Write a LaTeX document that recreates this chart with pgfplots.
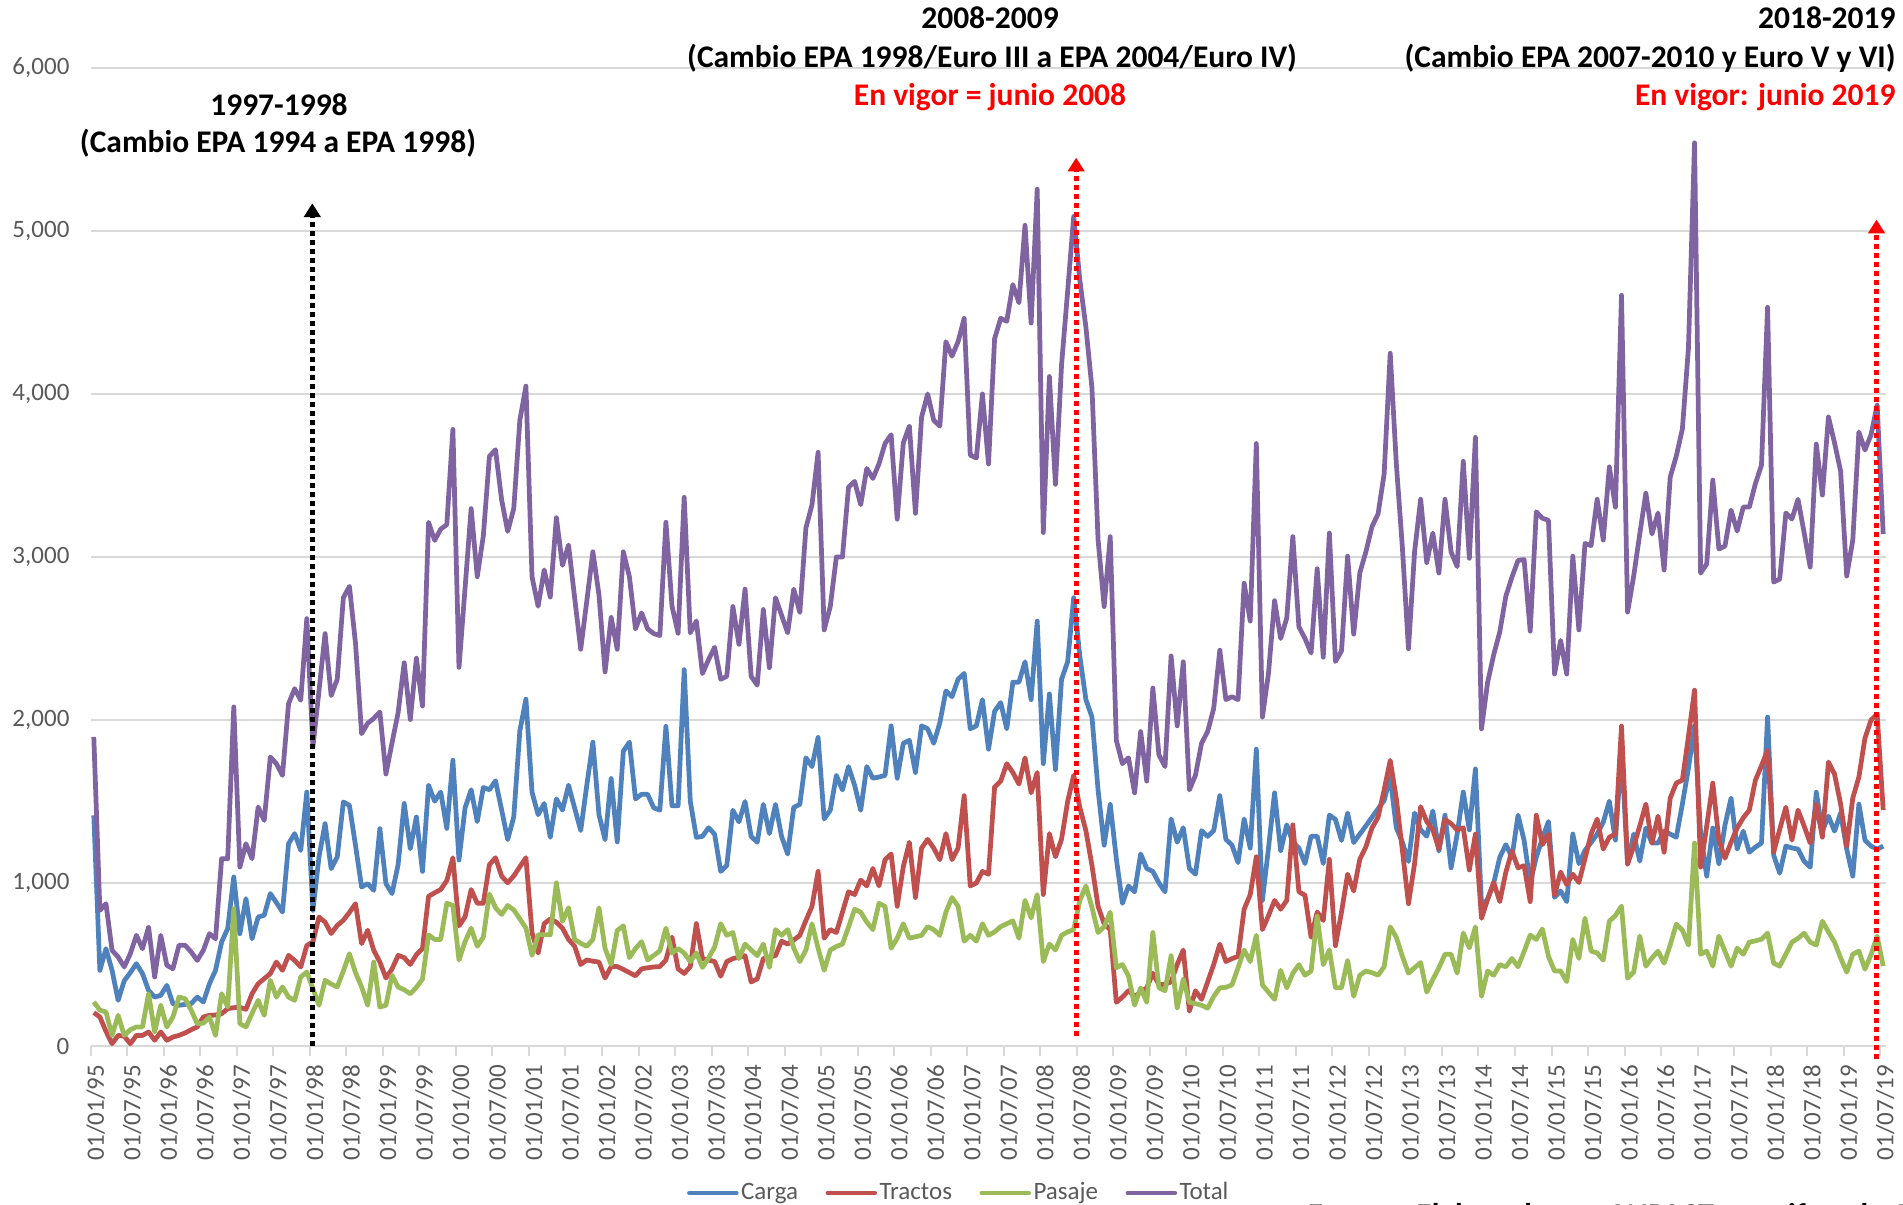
\documentclass[border=0pt]{standalone}
\usepackage{fontspec}
\setmainfont{Carlito}
\usepackage{pgfplots}
\usepackage{pgfplotstable}
\pgfplotsset{compat=1.18}
\usetikzlibrary{arrows.meta}
\definecolor{carga}{HTML}{4F81BD}
\definecolor{tractos}{HTML}{C0504D}
\definecolor{pasaje}{HTML}{9BBB59}
\definecolor{total}{HTML}{8064A2}
\definecolor{gridc}{HTML}{D9D9D9}
\definecolor{lbl}{HTML}{595959}
\definecolor{rojo}{HTML}{FF0000}

\pgfplotstableread{
i C R P T
0 1415 205 270 1896
1 464 178 220 832
2 597 90 209 873
3 464 14 65 587
4 280 65 188 546
5 400 60 65 485
6 450 14 100 566
7 505 65 117 679
8 444 65 117 597
9 341 86 321 730
10 300 35 86 423
11 311 86 250 679
12 372 35 117 495
13 260 55 178 474
14 250 65 300 618
15 255 80 290 618
16 260 100 220 577
17 300 117 137 525
18 270 178 140 587
19 382 188 178 689
20 464 190 65 658
21 638 198 321 1149
22 720 229 239 1149
23 1037 235 842 2080
24 689 237 137 1098
25 904 225 117 1241
26 658 321 200 1149
27 791 382 280 1466
28 802 413 188 1384
29 935 444 403 1773
30 880 515 300 1732
31 822 464 362 1660
32 1241 556 300 2100
33 1303 525 280 2192
34 1200 485 423 2121
35 1558 617 454 2622
36 832 638 352 1834
37 1160 791 250 2180
38 1364 760 403 2530
39 1088 690 380 2150
40 1160 740 362 2250
41 1497 771 460 2750
42 1476 820 566 2820
43 1230 873 450 2470
44 975 628 362 1916
45 996 710 250 1980
46 955 587 515 2010
47 1333 515 239 2049
48 996 417 250 1669
49 935 473 434 1860
50 1113 556 362 2045
51 1488 542 345 2351
52 1210 500 320 2003
53 1405 560 360 2379
54 1071 598 410 2086
55 1600 918 682 3213
56 1502 940 654 3102
57 1558 960 654 3171
58 1335 1015 876 3199
59 1753 1155 862 3783
60 1141 737 528 2323
61 1461 793 640 2810
62 1572 960 723 3297
63 1377 876 612 2879
64 1586 876 668 3130
65 1572 1113 932 3617
66 1627 1155 848 3658
67 1450 1043 807 3352
68 1266 1001 862 3157
69 1405 1043 835 3297
70 1934 1100 780 3839
71 2128 1155 723 4048
72 1558 695 556 2879
73 1419 570 682 2698
74 1488 751 682 2921
75 1280 779 682 2754
76 1516 760 1001 3241
77 1447 723 765 2949
78 1600 654 848 3074
79 1460 612 654 2750
80 1322 500 630 2434
81 1600 528 612 2730
82 1864 520 654 3032
83 1419 515 848 2768
84 1266 417 598 2295
85 1641 487 500 2629
86 1252 487 709 2434
87 1808 470 737 3032
88 1864 450 542 2879
89 1516 431 598 2559
90 1544 473 640 2657
91 1544 480 528 2559
92 1461 485 555 2530
93 1447 487 584 2518
94 1961 528 723 3213
95 1474 668 570 2698
96 1474 473 598 2532
97 2309 445 570 3366
98 1502 487 518 2535
99 1280 751 571 2607
100 1286 536 482 2285
101 1339 527 540 2370
102 1300 518 607 2446
103 1071 428 750 2250
104 1107 518 679 2268
105 1446 536 696 2696
106 1375 545 536 2464
107 1500 554 625 2803
108 1286 393 590 2268
109 1250 411 554 2214
110 1482 536 625 2678
111 1303 545 482 2321
112 1482 554 714 2750
113 1286 643 679 2643
114 1178 625 714 2535
115 1464 650 600 2803
116 1482 679 518 2660
117 1768 770 589 3178
118 1714 857 750 3321
119 1893 1071 600 3642
120 1393 661 464 2553
121 1446 714 589 2696
122 1660 696 610 3000
123 1571 821 625 3000
124 1714 946 730 3428
125 1600 929 839 3464
126 1446 1018 821 3321
127 1714 982 760 3543
128 1643 1089 714 3482
129 1650 982 875 3571
130 1660 1143 857 3696
131 1964 1178 600 3750
132 1643 857 661 3232
133 1857 1100 750 3700
134 1875 1250 661 3803
135 1678 911 670 3268
136 1964 1214 679 3857
137 1946 1268 732 4000
138 1857 1214 714 3839
139 1982 1143 679 3803
140 2178 1303 821 4321
141 2143 1143 911 4232
142 2250 1214 857 4321
143 2286 1536 643 4464
144 1946 982 679 3625
145 1964 1000 643 3607
146 2125 1071 750 4000
147 1821 1054 679 3571
148 2053 1589 700 4339
149 2107 1625 732 4464
150 1946 1732 750 4446
151 2232 1678 768 4671
152 2232 1607 661 4560
153 2357 1768 893 5035
154 2125 1553 786 4435
155 2607 1678 929 5257
156 1732 929 518 3150
157 2160 1303 625 4107
158 1696 1161 589 3446
159 2250 1268 679 4178
160 2357 1500 700 4630
161 2750 1661 714 5089
162 2393 1464 893 4700
163 2125 1321 982 4410
164 2018 1107 850 4035
165 1571 857 696 3107
166 1232 750 732 2696
167 1482 714 821 3125
168 1150 268 480 1875
169 875 300 500 1732
170 982 339 429 1768
171 946 304 250 1553
172 1178 330 357 1929
173 1089 357 268 1625
174 1071 446 696 2196
175 1000 375 357 1786
176 946 380 339 1714
177 1393 393 554 2393
178 1250 500 232 1964
179 1339 589 411 2357
180 1089 214 268 1571
181 1054 339 260 1661
182 1321 286 250 1857
183 1286 393 232 1929
184 1321 500 304 2071
185 1536 625 357 2428
186 1268 518 360 2125
187 1232 536 375 2143
188 1125 550 480 2125
189 1393 839 589 2839
190 1214 929 518 2607
191 1821 1161 679 3696
192 893 714 375 2018
193 1214 800 330 2286
194 1553 893 286 2732
195 1196 839 464 2500
196 1357 893 357 2625
197 1250 1357 446 3125
198 1214 946 499 2571
199 1119 925 434 2500
200 1287 667 460 2411
201 1287 822 796 2928
202 1119 770 499 2385
203 1416 1145 589 3147
204 1390 615 357 2359
205 1261 822 357 2424
206 1429 1054 525 3005
207 1248 951 305 2527
208 1300 1145 434 2902
209 1350 1222 460 3031
210 1403 1338 450 3186
211 1455 1403 434 3264
212 1506 1571 486 3509
213 1650 1752 731 4250
214 1339 1519 667 3574
215 1250 1200 550 3057
216 1132 873 447 2437
217 1429 1119 480 3031
218 1326 1468 512 3354
219 1287 1377 331 2966
220 1442 1326 408 3147
221 1196 1209 480 2902
222 1416 1390 563 3354
223 1093 1364 563 3031
224 1300 1326 447 2941
225 1558 1339 693 3587
226 1326 1080 602 2992
227 1700 1300 731 3734
228 860 783 305 1946
229 900 900 460 2230
230 1000 1003 434 2400
231 1158 886 499 2540
232 1235 1067 486 2760
233 1158 1196 537 2876
234 1416 1093 486 2979
235 1261 1106 580 2984
236 1000 886 680 2545
237 1158 1416 654 3277
238 1274 1235 718 3238
239 1377 1300 550 3225
240 912 925 460 2282
241 951 1067 460 2488
242 886 990 395 2282
243 1300 1054 654 3005
244 1119 1003 537 2553
245 1200 1150 784 3083
246 1248 1300 582 3070
247 1300 1392 571 3354
248 1373 1208 527 3104
249 1502 1281 766 3553
250 1263 1300 800 3306
251 1815 1963 858 4606
252 1116 1116 416 2662
253 1300 1226 453 2883
254 1134 1350 674 3141
255 1337 1484 490 3391
256 1245 1245 540 3141
257 1245 1410 582 3270
258 1318 1189 508 2920
259 1300 1521 620 3490
260 1281 1613 747 3619
261 1484 1631 711 3785
262 1705 1900 619 4282
263 1963 2183 1245 5541
264 1300 1097 563 2901
265 1042 1350 582 2957
266 1337 1613 490 3472
267 1116 1263 674 3049
268 1355 1152 580 3067
269 1521 1250 490 3288
270 1208 1337 600 3159
271 1318 1400 563 3306
272 1189 1447 637 3306
273 1220 1631 645 3450
274 1245 1720 655 3564
275 2018 1815 692 4532
276 1171 1189 508 2846
277 1060 1330 490 2865
278 1226 1465 563 3270
279 1215 1263 637 3233
280 1208 1447 660 3354
281 1134 1350 692 3150
282 1097 1245 637 2938
283 1557 1484 619 3693
284 1318 1281 766 3380
285 1410 1742 700 3859
286 1318 1668 637 3700
287 1429 1484 540 3527
288 1208 1226 453 2883
289 1042 1521 563 3104
290 1484 1650 582 3767
291 1263 1889 471 3656
292 1226 2000 560 3750
293 1208 2036 674 3932
294 1226 1447 490 3141
}\datos

\begin{document}
\begin{tikzpicture}
\begin{axis}[
  at={(36.3pt,63.6pt)}, anchor=south west,
  width=718.2pt, height=391.2pt, scale only axis,
  xmin=0, xmax=295, ymin=0, ymax=6000,
  clip=false,
  axis line style={draw=none},
  ymajorgrids, grid style={gridc, line width=0.8pt},
  xtick={0,6,...,294},
  xticklabels={01/01/95,01/07/95,01/01/96,01/07/96,01/01/97,01/07/97,01/01/98,01/07/98,01/01/99,01/07/99,01/01/00,01/07/00,01/01/01,01/07/01,01/01/02,01/07/02,01/01/03,01/07/03,01/01/04,01/07/04,01/01/05,01/07/05,01/01/06,01/07/06,01/01/07,01/07/07,01/01/08,01/07/08,01/01/09,01/07/09,01/01/10,01/07/10,01/01/11,01/07/11,01/01/12,01/07/12,01/01/13,01/07/13,01/01/14,01/07/14,01/01/15,01/07/15,01/01/16,01/07/16,01/01/17,01/07/17,01/01/18,01/07/18,01/01/19,01/07/19},
  xtick pos=bottom, tick align=outside,
  x tick style={gridc, line width=0.8pt},
  major tick length=4pt,
  x tick label style={rotate=90, anchor=east, font=\fontsize{10}{12}\selectfont, text=lbl, yshift=-2pt},
  ytick={0,1000,...,6000},
  y tick style={draw=none},
  y tick label style={font=\fontsize{10}{12}\selectfont, text=lbl, xshift=-1pt},
  /pgf/number format/1000 sep={,},
  /pgf/number format/assume math mode=true,
  legend columns=4,
  legend style={at={(0.4836,-0.1503)}, anchor=center, draw=none, fill=none,
    font=\fontsize{10}{12}\selectfont, text=lbl,
    /tikz/every even column/.append style={column sep=10pt},
    nodes={inner sep=1pt}},
  legend image code/.code={\draw[#1, line width=1.6pt, line cap=round] (0pt,0pt) -- (19pt,0pt);},
  every axis plot/.append style={line width=1.9pt, line join=round},
]
\addplot[carga] table[x expr=\thisrow{i}+0.5, y=C]{\datos};
\addplot[tractos] table[x expr=\thisrow{i}+0.5, y=R]{\datos};
\addplot[pasaje] table[x expr=\thisrow{i}+0.5, y=P]{\datos};
\addplot[total] table[x expr=\thisrow{i}+0.5, y=T]{\datos};
\legend{Carga,Tractos,Pasaje,Total}
\draw[black, line width=2pt, dash pattern=on 2pt off 1.6pt, -{Triangle[width=6.5pt,length=5.5pt]}] (axis cs:36.4,0) -- (axis cs:36.4,5170);
\draw[rojo, line width=2pt, dash pattern=on 2pt off 1.6pt, -{Triangle[width=6.5pt,length=5.5pt]}] (axis cs:161.9,60) -- (axis cs:161.9,5450);
\draw[rojo, line width=2pt, dash pattern=on 2pt off 1.6pt, -{Triangle[width=6.5pt,length=5.5pt]}] (axis cs:293.4,-80) -- (axis cs:293.4,5070);
\end{axis}
\begin{scope}[every node/.style={font=\bfseries\fontsize{12.6}{15}\selectfont, inner sep=0pt}]
\node at (111.6pt,440pt) {1997-1998};
\node at (111.2pt,424.8pt) {(Cambio EPA 1994 a EPA 1998)};
\node at (396pt,474.8pt) {2008-2009};
\node at (396.8pt,458.8pt) {(Cambio EPA 1998/Euro III a EPA 2004/Euro IV)};
\node[text=rojo] at (396pt,443.2pt) {En vigor = junio 2008};
\node[anchor=east] at (758.4pt,474.8pt) {2018-2019};
\node[anchor=east] at (758.4pt,458.8pt) {(Cambio EPA 2007-2010 y Euro V y VI)};
\node[text=rojo, anchor=east] at (758.4pt,443.2pt) {En vigor: junio 2019};
\node[anchor=north west] at (523pt,1pt) {Fuente: Elaborado por ANPACT con cifras de ANPACT};
\end{scope}
\pgfresetboundingbox
\useasboundingbox (0,0) rectangle (761.2pt,482pt);
\end{tikzpicture}
\end{document}
